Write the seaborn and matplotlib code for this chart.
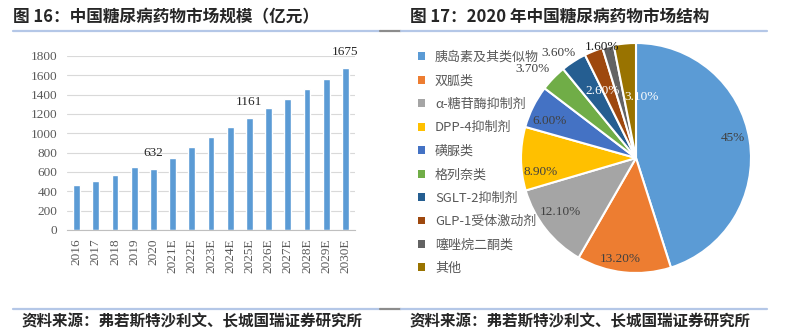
import matplotlib
matplotlib.use("Agg")
import matplotlib.pyplot as plt
import seaborn as sns
import pandas as pd
from matplotlib.lines import Line2D
from matplotlib.patches import Patch

# ---------------- data ----------------
years = ["2016", "2017", "2018", "2019", "2020", "2021E", "2022E", "2023E",
         "2024E", "2025E", "2026E", "2027E", "2028E", "2029E", "2030E"]
market_size = [470, 512, 572, 653, 632, 745, 860, 965, 1062, 1161, 1257, 1360, 1460, 1563, 1675]
labeled_years = ["2020", "2025E", "2030E"]

categories = ["胰岛素及其类似物", "双胍类", "α-糖苷酶抑制剂", "DPP-4抑制剂", "磺脲类",
              "格列奈类", "SGLT-2抑制剂", "GLP-1受体激动剂", "噻唑烷二酮类", "其他"]
shares = [45, 13.2, 12.1, 8.9, 6.0, 3.7, 3.6, 2.6, 1.6, 3.1]
share_labels = ["45%", "13.20%", "12.10%", "8.90%", "6.00%", "3.70%", "3.60%", "2.60%", "1.60%", "3.10%"]

title_left = "图 16：中国糖尿病药物市场规模（亿元）"
title_right = "图 17：2020 年中国糖尿病药物市场结构"
source = "资料来源：弗若斯特沙利文、长城国瑞证券研究所"

# ---------------- styles ----------------
pie_colors = ["#5B9BD5", "#ED7D31", "#A5A5A5", "#FFC000", "#4472C4",
              "#70AD47", "#255E91", "#9E480E", "#636363", "#997300"]
label_colors = ["#404040"] * 7 + ["white", "#1a1a1a", "white"]
# label offsets (in px from pie centre), radius = 115 px
label_offsets = [(97, -20), (-16, 101), (-76, 54), (-95, 14), (-86, -37),
                 (-103, -89), (-77, -105), (-33, -67), (-34, -111), (6, -61)]

sns.set_theme(style="white")
plt.rcParams["font.family"] = ["Noto Sans CJK SC", "DejaVu Sans"]
SERIF = "Liberation Serif"

W, H = 787, 336
fig = plt.figure(figsize=(W / 100, H / 100), dpi=100)
fig.patch.set_facecolor("white")


def fy(py):
    return 1 - py / H


# ---------------- bar chart ----------------
ax1 = fig.add_axes([67 / W, 1 - 230 / H, 288 / W, 174 / H])
df = pd.DataFrame({"year": years, "value": market_size})
sns.barplot(data=df, x="year", y="value", color="#5B9BD5", width=0.36,
            saturation=1, ax=ax1)
ax1.set_ylim(0, 1800)
ax1.set_xlim(-0.5, len(years) - 0.5)
ax1.set_yticks(range(0, 1801, 200))
ax1.grid(axis="y", color="#d9d9d9", linewidth=0.8)
ax1.set_axisbelow(True)
for s in ["top", "right", "left"]:
    ax1.spines[s].set_visible(False)
ax1.spines["bottom"].set_color("#bfbfbf")
ax1.spines["bottom"].set_linewidth(0.8)
ax1.set_xlabel("")
ax1.set_ylabel("")
ax1.tick_params(axis="both", length=0, colors="#595959")
ax1.tick_params(axis="y", pad=7)
ax1.tick_params(axis="x", pad=6)
for lab in ax1.get_yticklabels():
    lab.set_fontfamily(SERIF)
    lab.set_fontsize(9.5)
for lab in ax1.get_xticklabels():
    lab.set_fontfamily(SERIF)
    lab.set_fontsize(9.5)
    lab.set_rotation(90)
for i, (y, v) in enumerate(zip(years, market_size)):
    if y in labeled_years:
        ax1.text(i, v + 165, str(v), ha="center", va="center", fontfamily=SERIF,
                 fontsize=9.5, color="#262626", clip_on=False)

# ---------------- pie chart ----------------
R = 115
cx, cy = 636, 158
ax2 = fig.add_axes([(cx - R) / W, 1 - (cy + R) / H, 2 * R / W, 2 * R / H])
wedges, _ = ax2.pie(shares, colors=pie_colors, startangle=90, counterclock=False,
                    radius=1, wedgeprops=dict(edgecolor="white", linewidth=1.5))
ax2.set_xlim(-1, 1)
ax2.set_ylim(-1, 1)
ax2.axis("off")
for txt, (dx, dy), c in zip(share_labels, label_offsets, label_colors):
    ax2.text(dx / R, -dy / R, txt, ha="center", va="center", fontfamily=SERIF,
             fontsize=9.5, color=c, clip_on=False)

handles = [Patch(facecolor=c, edgecolor="none") for c in pie_colors]
fig.legend(handles, categories, loc="upper left",
           bbox_to_anchor=(418 / W, fy(51)), frameon=False,
           handlelength=0.55, handleheight=0.55, handletextpad=0.75,
           labelspacing=0.8, fontsize=9.4, labelcolor="#595959",
           borderaxespad=0, borderpad=0)

# ---------------- titles, separators, source ----------------
fig.text(13 / W, fy(17), title_left, ha="left", va="center", fontsize=12,
         fontweight="bold", color="#262626")
fig.text(410 / W, fy(17), title_right, ha="left", va="center", fontsize=12,
         fontweight="bold", color="#262626")
fig.text(22 / W, fy(321), source, ha="left", va="center", fontsize=11.2,
         fontweight="bold", color="#262626")
fig.text(410 / W, fy(321), source, ha="left", va="center", fontsize=11.2,
         fontweight="bold", color="#262626")

for ypx in (30.5, 309):
    fig.add_artist(Line2D([13 / W, 380 / W], [fy(ypx)] * 2, color="#B4C7E7", lw=1.6))
    fig.add_artist(Line2D([380 / W, 401 / W], [fy(ypx)] * 2, color="#8c8c8c", lw=1.6))
    fig.add_artist(Line2D([401 / W, 767 / W], [fy(ypx)] * 2, color="#B4C7E7", lw=1.6))

fig.savefig("out.png", dpi=100, facecolor="white")
